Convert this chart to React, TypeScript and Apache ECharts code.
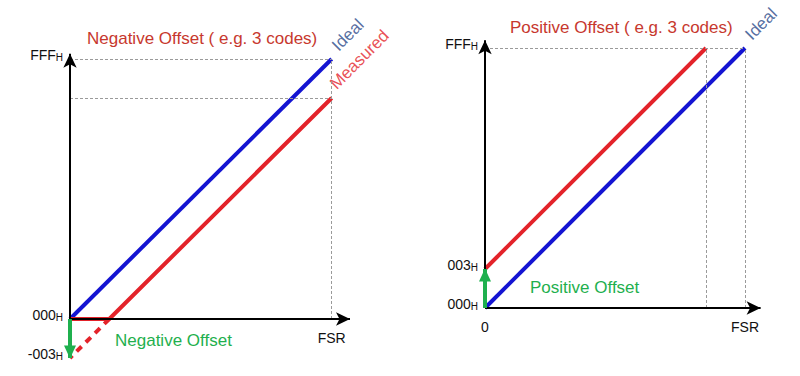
import React, { useEffect, useRef } from "react";
import * as echarts from "echarts";

const FONT = "'Liberation Sans', Arial, sans-serif";

// plot units: FSR / FFF_H = 100, offset of 3 codes drawn exaggerated as 15
const idealNeg: number[][] = [[0, 0], [100, 100]];
const measuredNeg: number[][] = [[0, 0], [15, 0], [100, 85]];
const measuredNegExtrap: number[][] = [[15, 0], [0, -15]];
const idealPos: number[][] = [[0, 0], [100, 100]];
const measuredPos: number[][] = [[0, 15], [85, 100]];

const yTicksNeg: Record<string, string> = { "100": "FFF", "0": "000", "-15": "-003" };
const yTicksPos: Record<string, string> = { "100": "FFF", "15": "003", "0": "000" };
const xTicksNeg: Record<string, string> = { "100": "FSR" };
const xTicksPos: Record<string, string> = { "0": "0", "100": "FSR" };

const guidesNeg: number[][][] = [
  [[0, 100], [100, 100]],
  [[0, 85], [100, 85]],
  [[100, 0], [100, 100]],
];
const guidesPos: number[][][] = [
  [[0, 100], [100, 100]],
  [[85, 0], [85, 100]],
  [[100, 0], [100, 100]],
];

const titles = ["Negative Offset ( e.g. 3 codes)", "Positive Offset ( e.g. 3 codes)"];
const offsetTexts = ["Negative Offset", "Positive Offset"];

const BLUE = "#1414d2";
const RED = "#e3232a";
const GREEN = "#1fb04e";
const TITLE_RED = "#c7382e";
const LABEL_BLUE = "#2a4888";

const yRich = {
  m: { fontSize: 14, color: "#111", fontFamily: FONT, verticalAlign: "bottom" },
  s: { fontSize: 10, color: "#111", fontFamily: FONT, verticalAlign: "bottom" },
};

function axisArrows(xMax: number, yMax: number) {
  return {
    silent: true,
    symbol: ["none", "arrow"],
    symbolSize: [10, 14],
    label: { show: false },
    lineStyle: { color: "#000", width: 2, type: "solid" },
    data: [
      [{ coord: [0, 0] }, { coord: [xMax, 0] }],
      [{ coord: [0, 0] }, { coord: [0, yMax] }],
    ],
  };
}

function guideLines(g: number[][][]) {
  return {
    silent: true,
    symbol: ["none", "none"],
    label: { show: false },
    lineStyle: { color: "#9a9a9a", width: 1, type: [3, 2] },
    data: g.map((seg) => [{ coord: seg[0] }, { coord: seg[1] }]),
  };
}

function offsetArrow(from: number[], to: number[]) {
  return {
    silent: true,
    symbol: ["none", "triangle"],
    symbolSize: [12, 13],
    symbolOffset: [0, [0, 6]],
    label: { show: false },
    lineStyle: { color: GREEN, width: 4, type: "solid" },
    data: [[{ coord: from }, { coord: to }]],
  };
}

function rotLabel(text: string, color: string, offset: number[]) {
  return {
    show: true,
    formatter: text,
    position: "inside",
    align: "left",
    verticalAlign: "bottom",
    rotate: 45,
    offset,
    color,
    fontSize: 17,
    fontFamily: FONT,
  };
}

export default function App() {
  const ref = useRef<HTMLDivElement>(null);
  useEffect(() => {
    if (!ref.current) return;
    const chart = echarts.init(ref.current, null, { renderer: "svg" });
    const xAxisBase = (grid: number, ticks: Record<string, string>, offset: number) => ({
      type: "value",
      gridIndex: grid,
      min: 0,
      max: 107,
      interval: 5,
      offset,
      axisLine: { show: false, onZero: false },
      axisTick: { show: false },
      splitLine: { show: false },
      axisLabel: {
        margin: 12,
        fontSize: 14,
        color: "#111",
        fontFamily: FONT,
        formatter: (v: number) => ticks[String(v)] ?? "",
      },
    });
    const yAxisBase = (grid: number, min: number, max: number, ticks: Record<string, string>) => ({
      type: "value",
      gridIndex: grid,
      min,
      max,
      interval: 5,
      axisLine: { show: false },
      axisTick: { show: false },
      splitLine: { show: false },
      axisLabel: {
        margin: 7,
        padding: [0, 0, 8, 0],
        formatter: (v: number) => (ticks[String(v)] ? `{m|${ticks[String(v)]}}{s|H}` : ""),
        rich: yRich,
      },
    });
    chart.setOption({
      animation: false,
      title: [
        { text: titles[0], left: 87, top: 30, padding: 0, textStyle: { color: TITLE_RED, fontSize: 17, fontWeight: "normal", fontFamily: FONT } },
        { text: titles[1], left: 510, top: 19, padding: 0, textStyle: { color: TITLE_RED, fontSize: 17, fontWeight: "normal", fontFamily: FONT } },
        { text: offsetTexts[0], left: 115, top: 332, padding: 0, textStyle: { color: GREEN, fontSize: 17, fontWeight: "normal", fontFamily: FONT } },
        { text: offsetTexts[1], left: 530, top: 279, padding: 0, textStyle: { color: GREEN, fontSize: 17, fontWeight: "normal", fontFamily: FONT } },
      ],
      grid: [
        { left: 70, top: 48.6, width: 280, height: 309.4 },
        { left: 485, top: 35, width: 278.2, height: 273 },
      ],
      // left x axis sits at y = 0, which is 15 units (39 px) above the bottom of its grid
      xAxis: [xAxisBase(0, xTicksNeg, -39), xAxisBase(1, xTicksPos, 0)],
      yAxis: [yAxisBase(0, -15, 104, yTicksNeg), yAxisBase(1, 0, 105, yTicksPos)],
      series: [
        // left chart
        {
          type: "line", xAxisIndex: 0, yAxisIndex: 0, data: [], silent: true,
          markLine: guideLines(guidesNeg),
        },
        {
          type: "line", xAxisIndex: 0, yAxisIndex: 0, data: [], silent: true,
          markLine: axisArrows(107, 102),
        },
        {
          type: "line", xAxisIndex: 0, yAxisIndex: 0, data: measuredNegExtrap, showSymbol: false, silent: true,
          lineStyle: { color: RED, width: 4, type: [7, 6] },
        },
        {
          type: "line", xAxisIndex: 0, yAxisIndex: 0, data: idealNeg, showSymbol: false, silent: true,
          lineStyle: { color: BLUE, width: 4 },
        },
        {
          type: "line", xAxisIndex: 0, yAxisIndex: 0, data: measuredNeg, showSymbol: false, silent: true,
          lineStyle: { color: RED, width: 4 },
        },
        {
          type: "line", xAxisIndex: 0, yAxisIndex: 0, data: [], silent: true,
          markLine: offsetArrow(measuredNeg[0], measuredNegExtrap[1]),
        },
        {
          type: "scatter", xAxisIndex: 0, yAxisIndex: 0, symbolSize: 1, silent: true,
          itemStyle: { color: "rgba(0,0,0,0)" },
          data: [
            { value: idealNeg[1], label: rotLabel("Ideal", LABEL_BLUE, [10, 3]) },
            { value: measuredNeg[2], label: rotLabel("Measured", RED, [9, 1]) },
          ],
        },
        // right chart
        {
          type: "line", xAxisIndex: 1, yAxisIndex: 1, data: [], silent: true,
          markLine: guideLines(guidesPos),
        },
        {
          type: "line", xAxisIndex: 1, yAxisIndex: 1, data: [], silent: true,
          markLine: axisArrows(106, 103),
        },
        {
          type: "line", xAxisIndex: 1, yAxisIndex: 1, data: [], silent: true,
          markLine: offsetArrow(idealPos[0], measuredPos[0]),
        },
        {
          type: "line", xAxisIndex: 1, yAxisIndex: 1, data: idealPos, showSymbol: false, silent: true,
          lineStyle: { color: BLUE, width: 4 },
        },
        {
          type: "line", xAxisIndex: 1, yAxisIndex: 1, data: measuredPos, showSymbol: false, silent: true,
          lineStyle: { color: RED, width: 4 },
        },
        {
          type: "scatter", xAxisIndex: 1, yAxisIndex: 1, symbolSize: 1, silent: true,
          itemStyle: { color: "rgba(0,0,0,0)" },
          data: [{ value: idealPos[1], label: rotLabel("Ideal", LABEL_BLUE, [10, 3]) }],
        },
      ],
    });
    return () => chart.dispose();
  }, []);
  return (
    <div
      ref={ref}
      style={{ position: "fixed", left: 0, top: 0, width: 800, height: 376, background: "#fff" }}
    />
  );
}
